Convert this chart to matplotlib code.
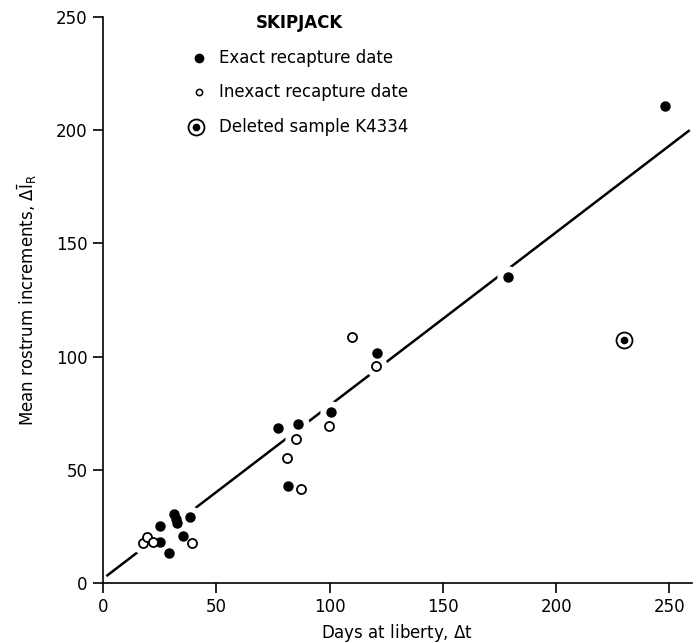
import matplotlib
matplotlib.use("Agg")
import matplotlib.pyplot as plt
import numpy as np

# ----------------------------------------------------------------------------------
# Data (days at liberty vs mean rostrum increments)
# ----------------------------------------------------------------------------------

# Exact recapture date (filled dots)
exact_days = [25.1, 25.3, 29.1, 31.3, 32.3, 32.6, 35.3, 38.4,
              77.1, 81.7, 86.1, 100.6, 120.9, 178.6, 247.9]
exact_incr = [18.1, 25.3, 13.1, 30.3, 28.1, 26.4, 20.8, 29.3,
              68.6, 43.0, 70.2, 75.4, 101.5, 135.2, 210.7]

# Inexact recapture date (open circles)
inexact_days = [17.5, 19.3, 21.9, 39.3, 81.3, 85.4, 87.3, 99.7, 110.0, 120.3]
inexact_incr = [17.7, 20.5, 18.1, 17.5, 55.1, 63.6, 41.4, 69.2, 108.5, 96.0]

# Deleted sample K4334
deleted_days = [229.8]
deleted_incr = [107.3]

# Fitted line
FIT_INTERCEPT = 1.9
FIT_SLOPE = 0.765
FIT_RANGE = [1.5, 259.0]

X_TICKS = [0, 50, 100, 150, 200, 250]
Y_TICKS = [0, 50, 100, 150, 200, 250]

# ----------------------------------------------------------------------------------
# Plot
# ----------------------------------------------------------------------------------

plt.rcParams['font.family'] = ['DejaVu Sans']
plt.rcParams['mathtext.fontset'] = 'dejavusans'

fig = plt.figure(figsize=(6.98, 6.43), dpi=100)
ax = fig.add_axes([103 / 698, 60 / 643, 589 / 698, 566 / 643])

# regression line
fit_x = np.array(FIT_RANGE)
fit_y = FIT_INTERCEPT + FIT_SLOPE * fit_x
ax.plot(fit_x, fit_y, color='black', linewidth=1.8, zorder=1, solid_capstyle='butt')

# white halos so the line is broken around the points
all_x = exact_days + inexact_days + deleted_days
all_y = exact_incr + inexact_incr + deleted_incr
ax.plot(all_x, all_y, 'o', color='white', markersize=16, markeredgewidth=0, zorder=2)

ax.plot(exact_days, exact_incr, 'o', color='black', markersize=6.5, zorder=3)
ax.plot(inexact_days, inexact_incr, 'o', markerfacecolor='white', markeredgecolor='black',
        markersize=6.5, markeredgewidth=1.3, zorder=3)
ax.plot(deleted_days, deleted_incr, 'o', markerfacecolor='white', markeredgecolor='black',
        markersize=11.5, markeredgewidth=1.3, zorder=3)
ax.plot(deleted_days, deleted_incr, 'o', color='black', markersize=4.5, zorder=4)

ax.set_xlim(0, 260)
ax.set_ylim(0, 250)
ax.set_xticks(X_TICKS)
ax.set_yticks(Y_TICKS)
for side in ['top', 'right']:
    ax.spines[side].set_visible(False)
for side in ['left', 'bottom']:
    ax.spines[side].set_linewidth(1.2)
ax.tick_params(direction='out', length=7, width=1.2, labelsize=12, pad=4)

ax.set_xlabel(r'Days at liberty, $\Delta$t', fontsize=12, labelpad=4)
ax.set_ylabel(r'Mean rostrum increments, $\Delta\bar{\mathrm{I}}_\mathrm{R}$',
              fontsize=12, labelpad=12)

# legend drawn by hand, as in the original figure
ax.text(0.334, 0.989, 'SKIPJACK', transform=ax.transAxes, ha='center', va='center',
        fontsize=12, fontweight='bold')
ax.plot([0.163], [0.928], 'o', color='black', markersize=6, transform=ax.transAxes,
        clip_on=False)
ax.plot([0.163], [0.867], 'o', markerfacecolor='white', markeredgecolor='black',
        markersize=4.5, markeredgewidth=1.1, transform=ax.transAxes, clip_on=False)
ax.plot([0.158], [0.806], 'o', markerfacecolor='white', markeredgecolor='black',
        markersize=11.5, markeredgewidth=1.3, transform=ax.transAxes, clip_on=False)
ax.plot([0.158], [0.806], 'o', color='black', markersize=4.5, transform=ax.transAxes,
        clip_on=False)
ax.text(0.197, 0.928, 'Exact recapture date', transform=ax.transAxes, va='center', fontsize=12)
ax.text(0.197, 0.867, 'Inexact recapture date', transform=ax.transAxes, va='center', fontsize=12)
ax.text(0.197, 0.806, 'Deleted sample K4334', transform=ax.transAxes, va='center', fontsize=12)

fig.savefig('out.png', dpi=100)
